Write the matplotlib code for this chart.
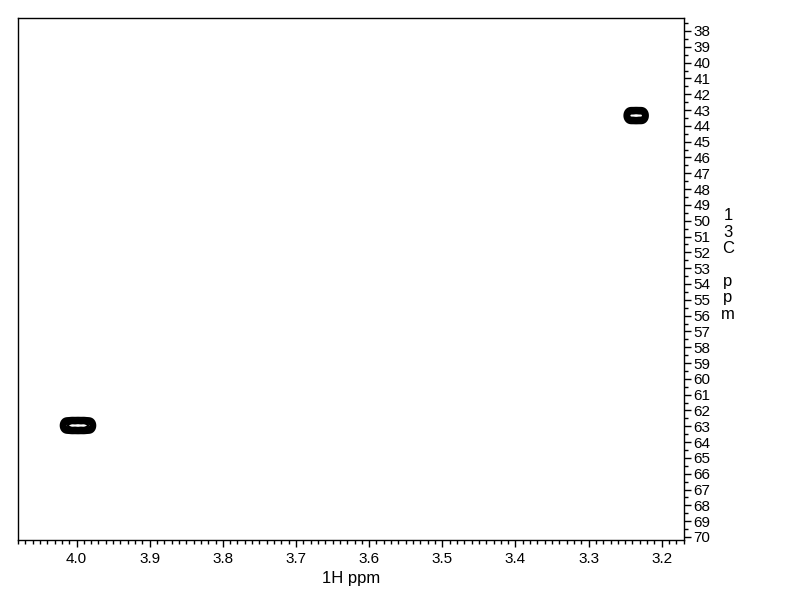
import numpy as np
import matplotlib.pyplot as plt

plt.rcParams['font.family'] = ['Liberation Sans', 'DejaVu Sans']

# Pics de corrélation (1H ppm, 13C ppm) - composantes du multiplet
pic_h = [4.014, 4.006, 3.998, 3.990, 3.982, 3.243, 3.235, 3.227]
pic_c = [62.95, 62.95, 62.95, 62.95, 62.95, 43.35, 43.35, 43.35]
pic_amp = [0.8, 1.0, 1.0, 1.0, 0.8, 1.0, 1.0, 1.0]
largeur_h = 0.0055
largeur_c = 0.32

x_ticks = [4.0, 3.9, 3.8, 3.7, 3.6, 3.5, 3.4, 3.3, 3.2]
y_ticks = list(range(38, 71))
niveaux = [0.12, 0.25, 0.4, 0.55, 0.7, 0.85, 1.0]

# Grille et surface
h = np.linspace(3.16, 4.08, 2400)
c = np.linspace(37, 71, 1400)
H, C = np.meshgrid(h, c)
Z = np.zeros_like(H)
for ph, pc, a in zip(pic_h, pic_c, pic_amp):
    Z += a * np.exp(-((H - ph) / largeur_h) ** 2 - ((C - pc) / largeur_c) ** 2)

fig = plt.figure(figsize=(7.92, 6.12), dpi=100)
ax = fig.add_axes([18 / 792, 1 - 540 / 612, 666 / 792, 522 / 612])
ax.contour(H, C, Z, levels=niveaux, colors='black', linewidths=1.5)

ax.set_xlim(4.0777, 3.1696)
ax.set_ylim(70.19, 37.18)
ax.set_xticks(x_ticks)
ax.set_xticklabels([f'{v:.1f}' for v in x_ticks])
ax.set_xticks(np.arange(3.17, 4.08, 0.01), minor=True)
ax.yaxis.tick_right()
ax.set_yticks(y_ticks)
ax.set_yticks(np.arange(37.5, 70.5, 1.0), minor=True)
ax.tick_params(axis='both', which='major', length=5, width=1, labelsize=11, direction='out')
ax.tick_params(axis='both', which='minor', length=3, width=1, direction='out')
ax.tick_params(axis='y', which='both', right=True, left=False, pad=2)
for s in ax.spines.values():
    s.set_linewidth(1)

ax.set_xlabel('1H ppm', fontsize=12, labelpad=4)
fig.text(728 / 792, 1 - 265 / 612, '1\n3\nC\n\np\np\nm', ha='center', va='center',
         fontsize=12, linespacing=1.12)

plt.savefig('out.png', dpi=100)
